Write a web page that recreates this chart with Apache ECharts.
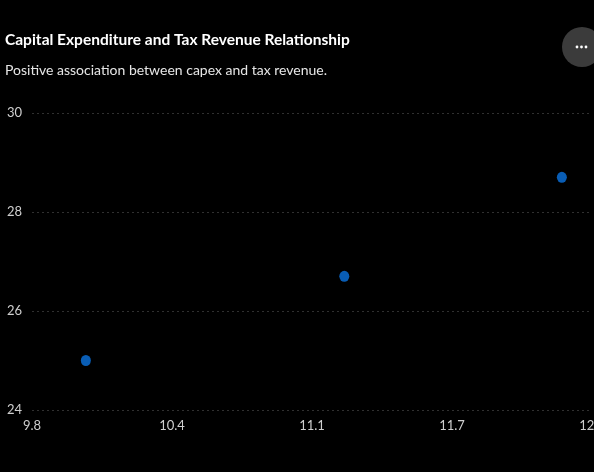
<!DOCTYPE html>
<html>
<head>
<meta charset="utf-8">
<style>
  html, body { margin: 0; padding: 0; background: #000; }
  #chart { width: 594px; height: 472px; }
</style>
<script src="https://cdn.jsdelivr.net/npm/echarts@6/dist/echarts.min.js"></script>
</head>
<body>
<div id="chart"></div>
<script>
// Capital expenditure (x) vs tax revenue (y)
const capex = [10.05, 11.25, 12.26];
const taxRevenue = [25.0, 26.7, 28.7];

const titleText = 'Capital Expenditure and Tax Revenue Relationship';
const subtitleText = 'Positive association between capex and tax revenue.';

const xMin = 9.8, xMax = 12.4, xStep = 0.65;
const yMin = 24, yMax = 30, yStep = 2;

const points = capex.map((v, i) => [v, taxRevenue[i]]);
const font = 'Lato, "Open Sans", sans-serif';

// tick values are truncated to one decimal place
const oneDecimal = v => (Math.floor(v * 10 + 1e-6) / 10).toFixed(1);

const chart = echarts.init(document.getElementById('chart'));
chart.setOption({
  backgroundColor: '#000',
  animation: false,
  title: {
    text: titleText,
    subtext: subtitleText,
    left: 0,
    top: 27,
    itemGap: 15,
    textStyle: { color: '#fff', fontSize: 15.5, fontWeight: 'bold', fontFamily: font },
    subtextStyle: { color: '#e6e6e6', fontSize: 14, fontFamily: font }
  },
  grid: { left: 32, right: 2, top: 113, bottom: 62, outerBoundsMode: 'none', containLabel: false },
  xAxis: {
    type: 'value',
    min: xMin,
    max: xMax,
    interval: xStep,
    axisLine: { show: false },
    axisTick: { show: false },
    splitLine: { show: false },
    axisLabel: {
      color: '#cfcfcf',
      fontSize: 13,
      fontFamily: font,
      margin: 9,
      hideOverlap: false,
      formatter: oneDecimal
    }
  },
  yAxis: {
    type: 'value',
    min: yMin,
    max: yMax,
    interval: yStep,
    axisLine: { show: false },
    axisTick: { show: false },
    splitLine: { lineStyle: { color: '#303030', type: [2, 3], width: 1 } },
    axisLabel: {
      color: '#cfcfcf',
      fontSize: 13,
      fontFamily: font,
      align: 'left',
      verticalAlign: 'middle',
      margin: 25,
      padding: [4, 0, 0, 0]
    }
  },
  series: [{
    type: 'scatter',
    data: points,
    symbol: 'circle',
    symbolSize: [10, 11],
    itemStyle: { color: '#0b74e2' }
  }],
  graphic: [{
    type: 'group',
    left: 562,
    top: 27,
    children: [
      { type: 'circle', shape: { cx: 20, cy: 20, r: 20 }, style: { fill: '#3b3b3b' } },
      { type: 'circle', shape: { cx: 15, cy: 20, r: 1.4 }, style: { fill: '#fff' } },
      { type: 'circle', shape: { cx: 19.5, cy: 20, r: 1.4 }, style: { fill: '#fff' } },
      { type: 'circle', shape: { cx: 24, cy: 20, r: 1.4 }, style: { fill: '#fff' } }
    ]
  }]
});
</script>
</body>
</html>
